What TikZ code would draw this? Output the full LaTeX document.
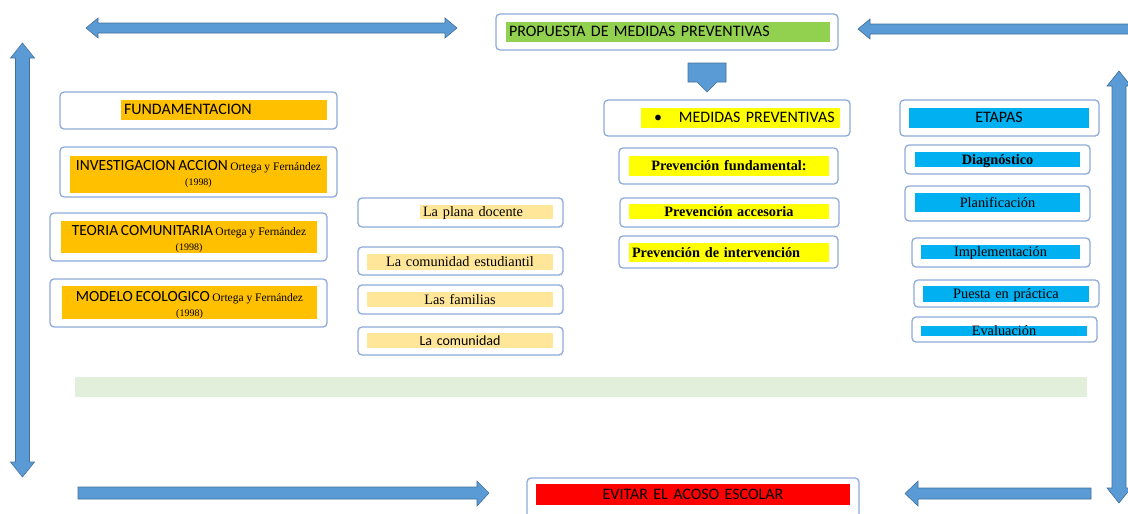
\documentclass[tikz,border=0pt]{standalone}
\usepackage{fontspec}
\setmainfont{Liberation Serif}
\newfontfamily\calibri[WordSpace=0.75]{Carlito}

\definecolor{arrowblue}{HTML}{5B9BD5}
\definecolor{arrowline}{HTML}{41719C}
\definecolor{framec}{HTML}{8EAADB}
\definecolor{orangefill}{HTML}{FFC000}
\definecolor{paleorange}{HTML}{FFE699}
\definecolor{greenfill}{HTML}{92D050}
\definecolor{cyanfill}{HTML}{00B0F0}
\definecolor{yellowfill}{HTML}{FFFF00}
\definecolor{redfill}{HTML}{FF0000}
\definecolor{palegreen}{HTML}{E2EFDA}

\tikzset{
  frame/.style={draw=framec, line width=1.3pt, rounded corners=4pt, fill=white, inner sep=0pt},
  bar/.style={fill=#1, inner xsep=3pt, inner ysep=0pt, text height=9pt, text depth=0pt},
  twobar/.style={fill=#1, inner sep=0pt, align=center},
  sans/.style={font=\calibri\fontsize{16}{18}\selectfont},
  serif/.style={font=\fontsize{14.3}{16}\selectfont},
  bserif/.style={font=\bfseries\fontsize{14.3}{16}\selectfont},
  blockarrow/.style={fill=arrowblue, draw=arrowline, line width=0.6pt, line join=miter}
}

% horizontal and vertical double block arrows
\newcommand\hdarrow[3]{\draw[blockarrow] (#1,#3) -- (#1+12,#3-10) -- (#1+12,#3-5) -- (#2-12,#3-5) -- (#2-12,#3-10) -- (#2,#3) -- (#2-12,#3+10) -- (#2-12,#3+5) -- (#1+12,#3+5) -- (#1+12,#3+10) -- cycle;}
\newcommand\vdarrow[3]{\draw[blockarrow] (#1,#2) -- (#1+12,#2+15) -- (#1+7,#2+15) -- (#1+7,#3-15) -- (#1+12,#3-15) -- (#1,#3) -- (#1-12,#3-15) -- (#1-7,#3-15) -- (#1-7,#2+15) -- (#1-12,#2+15) -- cycle;}
% two-line text of the left column
\newcommand\refline[1]{{\calibri\fontsize{15.5}{17}\selectfont #1} \fontsize{11.5}{14}\selectfont Ortega y Fernández\\[3pt](1998)}

\begin{document}
\begin{tikzpicture}[x=1pt,y=-1pt]
\useasboundingbox (0,0) rectangle (1128,514);

%Arrows round the picture
\hdarrow{86}{457}{28}
\hdarrow{858}{1142}{29}
\vdarrow{22.5}{43}{477}
\vdarrow{1119}{71}{503}
\draw[blockarrow] (78,487) -- (477,487) -- (477,481) -- (489,493) -- (477,506) -- (477,499) -- (78,499) -- cycle;
\draw[blockarrow] (1091,488) -- (918,488) -- (918,481) -- (905,493.5) -- (918,506) -- (918,499) -- (1091,499) -- cycle;
\draw[blockarrow] (688,63) -- (726,63) -- (726,82) -- (717,82) -- (707,92) -- (697,82) -- (688,82) -- cycle;

%Band
\node[fill=palegreen, minimum width=1012, minimum height=20, inner sep=0pt] (band) at (581,387) {};

%Frames
\foreach \n/\x/\y/\w/\h in {propbox/667/32/342/36, evitbox/693/499/332/42,
  fundbox/198.5/110.5/277/37, invbox/198.5/172/277/50, teobox/188.5/237/277/48, modbox/188.5/303/277/48,
  planabox/460.5/212.5/205/29, estbox/460.5/261/205/28, famibox/460.5/299.5/205/29, comubox/460.5/341/205/28,
  medbox/727/118/246/36, pfbox/728.5/166/219/36, pabox/729.5/212.5/219/29, pibox/728.5/252/219/32,
  etabox/999.5/118/199/36, diagbox/997.5/159.5/185/29, planbox/997.5/203.5/185/35,
  implbox/1001/252.5/178/29, puesbox/1006.5/293.5/185/27, evalbox/1004.5/329.5/185/25}
  \node[frame, minimum width=\w, minimum height=\h] (\n) at (\x,\y) {};

%Top and bottom
\node[bar=greenfill, sans, minimum height=20, text width=318pt, align=left] (propbar) at (668,32) {PROPUESTA DE MEDIDAS PREVENTIVAS};
\node[bar=redfill, sans, minimum height=21, text width=308pt, align=center] (evitbar) at (693,494.5) {EVITAR EL ACOSO ESCOLAR};

%Left column
\node[bar=orangefill, sans, minimum height=20, text width=200pt, align=left] (fundbar) at (224,110) {FUNDAMENTACION};
\node[twobar=orangefill, minimum width=257, minimum height=37] (invbar) at (198.5,174.5) {\refline{INVESTIGACION ACCION}};
\node[twobar=orangefill, minimum width=256, minimum height=32] (teobar) at (189,237) {};
\node[inner sep=0pt, align=center] (teotext) at (189,239.5) {\refline{TEORIA COMUNITARIA}};
\node[twobar=orangefill, minimum width=255, minimum height=33] (modbar) at (189.5,302.5) {};
\node[inner sep=0pt, align=center] (modtext) at (189.5,305.5) {\refline{MODELO ECOLOGICO}};

%Middle column
\node[bar=paleorange, serif, minimum height=14, text width=127pt, align=left] (planabar) at (486.5,212) {La plana docente};
\node[bar=paleorange, serif, minimum height=16, text width=180pt, align=center] (estbar) at (460,262) {La comunidad estudiantil};
\node[bar=paleorange, serif, minimum height=15, text width=180pt, align=center] (famibar) at (460,299.5) {Las familias};
\node[bar=paleorange, font=\calibri\fontsize{14}{16}\selectfont, minimum height=15, text width=180pt, align=center] (comubar) at (460,340.5) {La comunidad};

%Measures
\node[bar=yellowfill, sans, minimum height=20, text width=193pt, align=left] (medbar) at (740.5,118) {\hspace*{10pt}\textbullet\hspace{17pt}MEDIDAS PREVENTIVAS};
\node[bar=yellowfill, bserif, minimum height=20, text width=194pt, align=center] (pfbar) at (729,166) {Prevención fundamental:};
\node[bar=yellowfill, bserif, minimum height=15, text width=194pt, align=center] (pabar) at (729,211.5) {Prevención accesoria};
\node[bar=yellowfill, bserif, minimum height=19, text width=194pt, align=left] (pibar) at (729,252.5) {Prevención de intervención};

%Stages
\node[bar=cyanfill, sans, minimum height=20, text width=174pt, align=center] (etabar) at (999,118) {ETAPAS};
\node[bar=cyanfill, bserif, minimum height=15, text width=159pt, align=center] (diagbar) at (997.5,159.5) {Diagnóstico};
\node[bar=cyanfill, serif, minimum height=19, text width=159pt, align=center] (planbar) at (997.5,202.5) {Planificación};
\node[bar=cyanfill, serif, minimum height=14, text width=153pt, align=center] (implbar) at (1000.5,252) {Implementación};
\node[bar=cyanfill, serif, minimum height=16, text width=160pt, align=center] (puesbar) at (1006,294) {Puesta en práctica};
\node[bar=cyanfill, serif, minimum height=10, text width=160pt, align=center, yshift=-1.5] (evalbar) at (1004,329) {Evaluación};

\end{tikzpicture}
\end{document}
